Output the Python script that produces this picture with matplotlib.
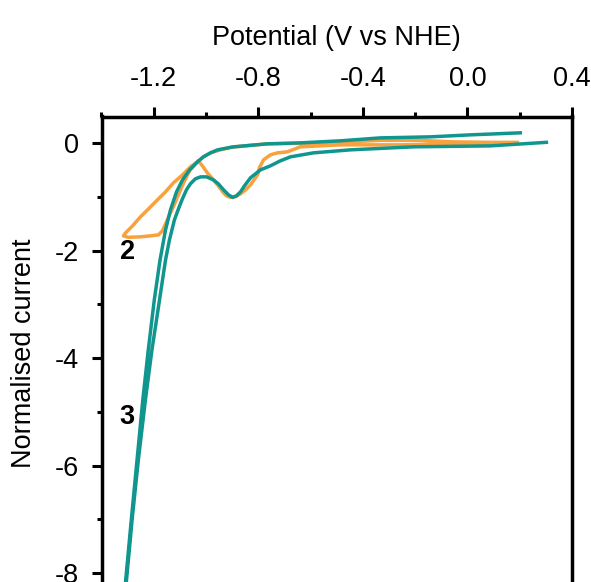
import matplotlib
matplotlib.use("Agg")
import matplotlib.pyplot as plt
from matplotlib.ticker import MultipleLocator

# ── data (potential in V vs NHE, normalised current) ──
# cycle 2 (orange), one closed scan
cv2_potential = [0.191, -0.065, -0.257, -0.486, -0.639, -0.689, -0.727, -0.754, -0.780,
                 -0.796, -0.803, -0.830, -0.849, -0.868, -0.888, -0.907, -0.922, -0.933,
                 -0.953, -0.972, -0.995, -1.014, -1.029, -1.044, -1.060, -1.090, -1.125,
                 -1.155, -1.186, -1.220, -1.251, -1.281, -1.308, -1.316, -1.297, -1.251,
                 -1.213, -1.182, -1.167, -1.155, -1.140, -1.125, -1.106, -1.086, -1.071,
                 -1.060, -1.033, -1.010, -0.983, -0.945, -0.907, -0.830, -0.765, -0.639,
                 -0.486, -0.333, -0.180, -0.065, 0.088, 0.191]
cv2_current = [0.009, -0.009, -0.028, -0.028, -0.065, -0.158, -0.177, -0.214, -0.307,
               -0.456, -0.587, -0.773, -0.866, -0.940, -0.996, -1.006, -0.978, -0.922,
               -0.791, -0.680, -0.549, -0.419, -0.326, -0.382, -0.438, -0.587, -0.736,
               -0.903, -1.052, -1.220, -1.369, -1.536, -1.667, -1.723, -1.750, -1.741,
               -1.723, -1.704, -1.629, -1.499, -1.331, -1.182, -0.959, -0.736, -0.587,
               -0.494, -0.345, -0.251, -0.177, -0.121, -0.074, -0.037, -0.009, 0.000,
               0.019, 0.056, 0.056, 0.028, 0.019, 0.019]

# cycle 3 (teal), cathodic branch then return branch
cv3_potential = [0.302, 0.088, -0.207, -0.448, -0.589, -0.677, -0.716, -0.754, -0.792,
                 -0.830, -0.853, -0.868, -0.884, -0.899, -0.914, -0.933, -0.953, -0.972,
                 -0.998, -1.021, -1.041, -1.060, -1.075, -1.092, -1.107, -1.121, -1.140,
                 -1.155, -1.178, -1.207, -1.232, -1.259, -1.283, -1.305, -1.320,
                 -1.322, -1.308, -1.286, -1.264, -1.242, -1.221, -1.198, -1.176, -1.155,
                 -1.136, -1.113, -1.090, -1.063, -1.033, -1.010, -0.983, -0.956, -0.895,
                 -0.765, -0.639, -0.486, -0.333, -0.142, 0.011, 0.202]
cv3_current = [0.019, -0.047, -0.065, -0.121, -0.177, -0.251, -0.326, -0.419, -0.494,
               -0.642, -0.791, -0.903, -0.978, -1.006, -0.959, -0.866, -0.754, -0.680,
               -0.624, -0.624, -0.661, -0.754, -0.866, -1.052, -1.238, -1.425, -1.797,
               -2.170, -2.914, -3.845, -4.777, -5.894, -7.011, -8.166, -8.687,
               -8.687, -8.166, -7.011, -5.894, -4.777, -3.845, -2.914, -2.170, -1.611,
               -1.238, -0.903, -0.680, -0.493, -0.345, -0.251, -0.177, -0.121, -0.065,
               -0.009, 0.009, 0.047, 0.102, 0.121, 0.158, 0.196]

labels = ["2", "3"]
label_x = [-1.301, -1.302]
label_y = [-2.02, -5.10]

plt.rcParams["font.family"] = ["Liberation Sans", "DejaVu Sans"]
plt.rcParams["font.size"] = 19.5

W, H = 591, 582
fig = plt.figure(figsize=(W / 100, H / 100), dpi=100)

# axes box in pixels (bottom spine falls just outside the picture)
left_px, right_px, top_px = 101.5, 572.0, 116.5
ymin, ymax = -8.3, 0.5
px_per_unit = 53.7
height_px = (ymax - ymin) * px_per_unit
ax = fig.add_axes([left_px / W, 1 - (top_px + height_px) / H,
                   (right_px - left_px) / W, height_px / H])

ax.plot(cv2_potential, cv2_current, color="#f9a13c", linewidth=2.5, zorder=2)
ax.plot(cv3_potential, cv3_current, color="#10968f", linewidth=2.5, zorder=3)

for txt, lx, ly in zip(labels, label_x, label_y):
    ax.text(lx, ly, txt, fontsize=19.5, fontweight="bold", ha="center", va="center")

ax.set_xlim(-1.4, 0.4)
ax.set_ylim(ymin, ymax)

ax.xaxis.set_major_locator(MultipleLocator(0.4))
ax.xaxis.set_minor_locator(MultipleLocator(0.2))
ax.yaxis.set_major_locator(MultipleLocator(2))
ax.yaxis.set_minor_locator(MultipleLocator(1))
ax.xaxis.set_major_formatter(plt.FuncFormatter(lambda v, p: f"{v:.1f}"))
ax.yaxis.set_major_formatter(plt.FuncFormatter(lambda v, p: f"{v:.0f}"))

ax.xaxis.tick_top()
ax.xaxis.set_label_position("top")
ax.tick_params(axis="x", which="both", top=True, bottom=False, direction="out", width=2.2)
ax.tick_params(axis="x", which="major", length=7.5, pad=10.5)
ax.tick_params(axis="x", which="minor", length=3.5)
ax.tick_params(axis="y", which="both", left=True, right=False, direction="out", width=2.2)
ax.tick_params(axis="y", which="major", length=7.5, pad=8.5)
ax.tick_params(axis="y", which="minor", length=3.5)

for side in ["top", "left", "right"]:
    ax.spines[side].set_linewidth(2.5)
ax.spines["bottom"].set_visible(False)

ax.set_xlabel("Potential (V vs NHE)", labelpad=15)
ax.set_ylabel("Normalised current", labelpad=13)

fig.savefig("out.png", dpi=100)
